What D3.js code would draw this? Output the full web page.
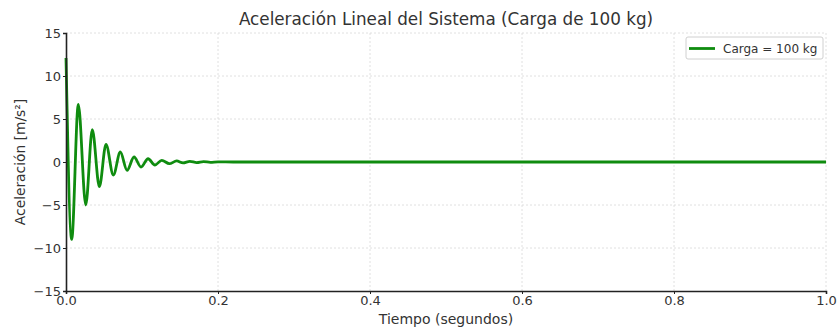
<!DOCTYPE html>
<html>
<head>
<meta charset="utf-8">
<script src="https://cdn.jsdelivr.net/npm/d3@7/dist/d3.min.js"></script>
<style>
  html, body { margin: 0; padding: 0; background: #fff; }
  svg { display: block; }
  text { font-family: "DejaVu Sans", sans-serif; }
</style>
</head>
<body>
<svg id="chart" width="840" height="328"></svg>
<script>
// Data: time (s) of extrema and acceleration values (m/s²)
const times = [0.0, 0.0075, 0.0162, 0.0260, 0.0346, 0.0439, 0.0526, 0.0623, 0.0715, 0.0803,
               0.0895, 0.0987, 0.1080, 0.1170, 0.1260, 0.1360, 0.1456, 0.1540, 0.1630, 0.1720,
               0.1810, 0.1900, 0.2000, 0.2200, 0.2500, 0.4000, 0.6000, 0.8000, 1.0000];
const accel = [12.1, -9.0, 6.7, -5.0, 3.76, -2.87, 2.05, -1.51, 1.16, -0.97,
               0.58, -0.58, 0.38, -0.35, 0.2, -0.2, 0.12, -0.1, 0.08, -0.07,
               0.05, -0.04, 0.02, 0.0, 0.0, 0.0, 0.0, 0.0, 0.0];
const xTicks = [0.0, 0.2, 0.4, 0.6, 0.8, 1.0];
const yTicks = [-15, -10, -5, 0, 5, 10, 15];
const titleText = "Aceleración Lineal del Sistema (Carga de 100 kg)";
const xLabel = "Tiempo (segundos)";
const yLabel = "Aceleración [m/s²]";
const legendLabel = "Carga = 100 kg";

const svg = d3.select("#chart");
const margin = {left: 66, right: 14, top: 33, bottom: 37};
const W = 840, H = 328;
const x = d3.scaleLinear().domain([0, 1]).range([margin.left, W - margin.right]);
const y = d3.scaleLinear().domain([-15, 15]).range([H - margin.bottom, margin.top]);

// grid
const grid = svg.append("g");
grid.selectAll(".gx").data(xTicks.filter(d => d > 0)).enter().append("line")
  .attr("x1", d => x(d)).attr("x2", d => x(d))
  .attr("y1", y(-15)).attr("y2", y(15))
  .attr("stroke", "#d8d8d8").attr("stroke-width", 0.8).attr("stroke-dasharray", "2,2");
grid.selectAll(".gy").data(yTicks.filter(d => d > -15)).enter().append("line")
  .attr("y1", d => y(d)).attr("y2", d => y(d))
  .attr("x1", x(0)).attr("x2", x(1))
  .attr("stroke", "#d8d8d8").attr("stroke-width", 0.8).attr("stroke-dasharray", "2,2");

// line
const pts = times.map((t, i) => [t, accel[i]]);
const line = d3.line().x(d => x(d[0])).y(d => y(d[1])).curve(d3.curveMonotoneX);
svg.append("path").datum(pts).attr("d", line)
  .attr("fill", "none").attr("stroke", "#0f8c0f").attr("stroke-width", 2.8)
  .attr("stroke-linejoin", "round");

// axes
const fmtX = d3.format(".1f");
const xAxis = d3.axisBottom(x).tickValues(xTicks).tickFormat(fmtX).tickSize(3).tickPadding(2);
const yAxis = d3.axisLeft(y).tickValues(yTicks).tickFormat(d => d < 0 ? "\u2212" + Math.abs(d) : d).tickSize(3).tickPadding(2);
const gx = svg.append("g").attr("transform", `translate(0,${y(-15)})`).call(xAxis);
const gy = svg.append("g").attr("transform", `translate(${x(0)},0)`).call(yAxis);
[gx, gy].forEach(g => {
  g.select(".domain").attr("stroke", "#222").attr("stroke-width", 1.6);
  g.selectAll(".tick line").attr("stroke", "#222").attr("stroke-width", 1);
  g.selectAll(".tick text").attr("fill", "#333").attr("font-size", 13).attr("font-family", "DejaVu Sans");
});

// title and labels
svg.append("text").attr("x", 446).attr("y", 25).attr("text-anchor", "middle")
  .attr("font-size", 16.8).attr("fill", "#333").text(titleText);
svg.append("text").attr("x", 446).attr("y", 324).attr("text-anchor", "middle")
  .attr("font-size", 14).attr("fill", "#333").text(xLabel);
svg.append("text").attr("transform", `translate(25,${y(0)}) rotate(-90)`).attr("text-anchor", "middle")
  .attr("font-size", 13.8).attr("fill", "#333").text(yLabel);

// legend
const lg = svg.append("g").attr("transform", "translate(686,37)");
lg.append("rect").attr("width", 137).attr("height", 22).attr("rx", 2)
  .attr("fill", "#fff").attr("stroke", "#d0d0d0").attr("stroke-width", 1);
lg.append("line").attr("x1", 3).attr("x2", 29).attr("y1", 11.5).attr("y2", 11.5)
  .attr("stroke", "#0f8c0f").attr("stroke-width", 2.8);
lg.append("text").attr("x", 37).attr("y", 16).attr("font-size", 12).attr("fill", "#333").text(legendLabel);
</script>
</body>
</html>
